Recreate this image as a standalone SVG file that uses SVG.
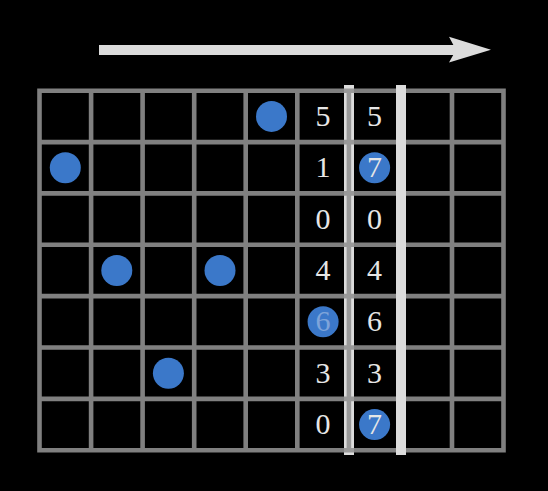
<svg xmlns="http://www.w3.org/2000/svg" width="548" height="491" viewBox="0 0 548 491">
<style>
.dot{fill:#3b78c9}
.num{font-family:"Liberation Serif","DejaVu Serif",serif;font-size:30px;fill:#e6e6e6;text-anchor:middle}
.faded{fill:#7ea4da}
.bar{fill:#dcdcdc}
</style>
<rect x="0" y="0" width="548" height="491" fill="#000"/>
<g id="arrow">
<rect x="99" y="45" width="358" height="10" fill="#dcdcdc"/>
<polygon points="449,36.7 491,49.8 449,62.5 456,50" fill="#dcdcdc"/>
</g>
<rect id="bar-left" class="bar" x="344" y="85" width="10" height="370"/>
<g id="grid">
<path fill="none" stroke="#909090" stroke-opacity="0.887" stroke-width="4.6" stroke-linecap="square" d="M39.5,90.7V450.2M91.1,90.7V450.2M142.6,90.7V450.2M194.2,90.7V450.2M245.7,90.7V450.2M297.3,90.7V450.2M348.9,90.7V450.2M400.4,90.7V450.2M452,90.7V450.2M503.5,90.7V450.2M39.5,90.7H503.5M39.5,142.1H503.5M39.5,193.4H503.5M39.5,244.8H503.5M39.5,296.1H503.5M39.5,347.5H503.5M39.5,398.9H503.5M39.5,450.2H503.5"/>
</g>
<rect id="bar-right" class="bar" x="396" y="85" width="10" height="370"/>
<g id="dots">
<circle class="dot" cx="271.5" cy="116.4" r="15.5"/>
<circle class="dot" cx="65.3" cy="167.8" r="15.5"/>
<circle class="dot" cx="374.6" cy="167.8" r="15.5"/>
<circle class="dot" cx="116.8" cy="270.5" r="15.5"/>
<circle class="dot" cx="220" cy="270.5" r="15.5"/>
<circle class="dot" cx="323.1" cy="321.8" r="15.5"/>
<circle class="dot" cx="168.4" cy="373.2" r="15.5"/>
<circle class="dot" cx="374.6" cy="424.6" r="15.5"/>
</g>
<g id="col-a">
<text class="num" x="323.1" y="126">5</text>
<text class="num" x="323.1" y="177.4">1</text>
<text class="num" x="323.1" y="228.7">0</text>
<text class="num" x="323.1" y="280.1">4</text>
<text class="num faded" x="323.1" y="331.4">6</text>
<text class="num" x="323.1" y="382.8">3</text>
<text class="num" x="323.1" y="434.2">0</text>
</g>
<g id="col-b">
<text class="num" x="374.6" y="126">5</text>
<text class="num" x="374.6" y="177.4">7</text>
<text class="num" x="374.6" y="228.7">0</text>
<text class="num" x="374.6" y="280.1">4</text>
<text class="num" x="374.6" y="331.4">6</text>
<text class="num" x="374.6" y="382.8">3</text>
<text class="num" x="374.6" y="434.2">7</text>
</g>
</svg>
